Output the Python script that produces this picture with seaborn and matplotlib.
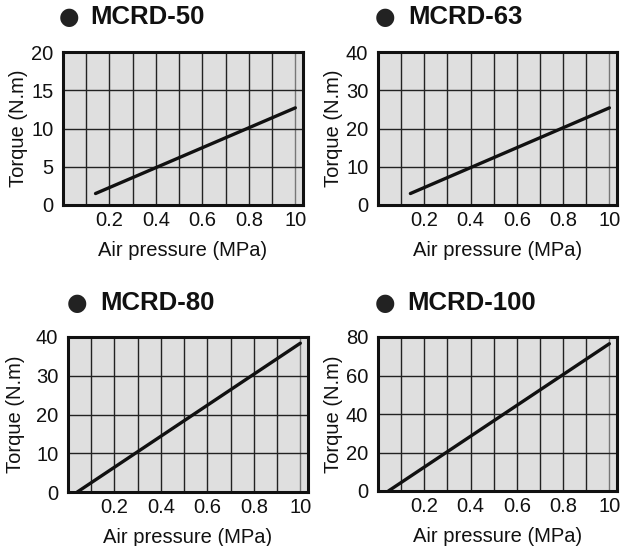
import numpy as np
import pandas as pd
import seaborn as sns
import matplotlib.pyplot as plt

# values (line start / end points)
models = ['MCRD-50', 'MCRD-63', 'MCRD-80', 'MCRD-100']
pressure_50 = [0.14, 1.0]
torque_50 = [1.5, 12.7]
pressure_63 = [0.14, 1.0]
torque_63 = [3.0, 25.4]
pressure_80 = [0.04, 1.0]
torque_80 = [0.0, 38.4]
pressure_100 = [0.045, 1.0]
torque_100 = [0.0, 76.5]
y_max = [20, 40, 40, 80]
y_step = [5, 10, 10, 20]
x_ticks = [0.2, 0.4, 0.6, 0.8, 1.0]
x_tick_labels = ['0.2', '0.4', '0.6', '0.8', '10']

sns.set_theme(style='white')
plt.rcParams['font.family'] = ['Liberation Sans', 'DejaVu Sans']

pressures = [pressure_50, pressure_63, pressure_80, pressure_100]
torques = [torque_50, torque_63, torque_80, torque_100]

fig = plt.figure(figsize=(6.22, 5.46), dpi=100)
W, H = 622, 546
# axes boxes in pixels: left, top, right, bottom
boxes = [(63, 52, 303, 205), (378, 52, 617, 205),
         (68, 337, 308, 492), (378, 337, 617, 491)]
titles_px = [(69, 90, 17), (385, 408, 17), (77, 100, 303), (385, 407, 303)]
ylab_pad = [2, 2, 8, 2]

for i, m in enumerate(models):
    l, t, r, b = boxes[i]
    ax = fig.add_axes([l / W, 1 - b / H, (r - l) / W, (b - t) / H])
    ax.set_facecolor('#dfdfdf')
    df = pd.DataFrame({'p': pressures[i], 'T': torques[i]})
    sns.lineplot(data=df, x='p', y='T', ax=ax, color='#111111', linewidth=2.4, zorder=5)
    ax.set_xlim(0, 1.033)
    ax.set_ylim(0, y_max[i])
    for xv in np.arange(0.1, 1.01, 0.1):
        c = '#777777' if xv > 0.95 else '#222222'
        ax.axvline(xv, color=c, linewidth=1.0, zorder=2)
    for yv in np.arange(y_step[i], y_max[i], y_step[i]):
        ax.axhline(yv, color='#222222', linewidth=1.0, zorder=2)
    ax.set_xticks(x_ticks)
    ax.set_xticklabels(x_tick_labels)
    ax.set_yticks(np.arange(0, y_max[i] + 1, y_step[i]))
    ax.tick_params(length=0, labelsize=14.5, colors='#111111')
    ax.tick_params(axis='x', pad=4)
    ax.tick_params(axis='y', pad=7)
    for s in ax.spines.values():
        s.set_color('#111111')
        s.set_linewidth(2.2)
        s.set_zorder(6)
    ax.set_xlabel('Air pressure (MPa)', fontsize=14.5, color='#111111', labelpad=8)
    ax.set_ylabel('Torque (N.m)', fontsize=14.5, color='#111111', labelpad=ylab_pad[i])
    bx, tx, ty = titles_px[i]
    fig.text(bx / W, 1 - ty / H, '●', fontsize=17, family='DejaVu Sans',
             color='#222222', ha='center', va='center')
    fig.text(tx / W, 1 - ty / H, m, fontsize=18.5, fontweight='bold',
             color='#111111', ha='left', va='center')

fig.savefig('out.png', dpi=100)
